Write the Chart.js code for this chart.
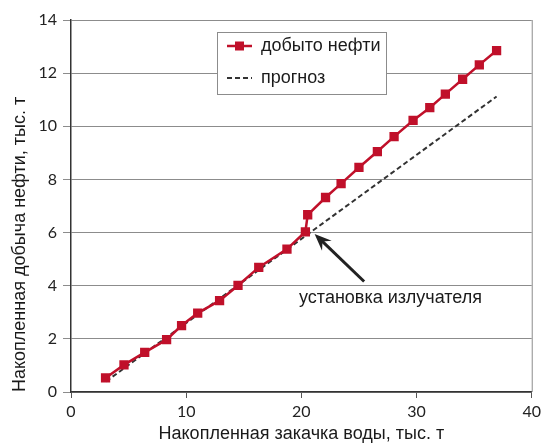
<!doctype html>
<html>
<head>
  <meta charset="UTF-8">
  <title>Накопленная добыча нефти</title>
  <script src="https://cdn.jsdelivr.net/npm/chart.js@4.4.1/dist/chart.umd.min.js"></script>
  <style>
    html, body { margin: 0; padding: 0; background: #fff; }
    #wrap { width: 545px; height: 445px; position: relative; }
  </style>
</head>
<body>
<div id="wrap"><canvas id="canvas"></canvas></div>
<script>
// накопленная закачка воды, тыс. т
var zakachka = [3.0, 4.6, 6.4, 8.3, 9.6, 11.0, 12.9, 14.5, 16.3, 18.75, 20.35, 20.55,
                22.1, 23.45, 25.0, 26.6, 28.05, 29.7, 31.15, 32.5, 34.0, 35.45, 36.95];
// накопленная добыча нефти, тыс. т
var dobycha = [0.53, 1.02, 1.49, 1.97, 2.5, 2.97, 3.44, 4.01, 4.69, 5.38, 6.03, 6.67,
               7.32, 7.84, 8.45, 9.05, 9.61, 10.22, 10.7, 11.21, 11.77, 12.31, 12.85];
// прогноз (прямая)
var prognozX = [3.05, 36.95];
var prognozY = [0.4, 11.12];

var xTicks = [0, 10, 20, 30, 40];
var yTicks = [0, 2, 4, 6, 8, 10, 12, 14];

// подпись и стрелка
var noteText = 'установка излучателя';
var arrowFrom = [25.45, 4.16];
var arrowTo = [21.15, 5.95];
var notePos = [19.8, 3.53];

var red = '#c0102a';
var dark = '#222222';

var pts1 = [];
for (var i = 0; i < zakachka.length; i++) {
  pts1.push({x: zakachka[i], y: dobycha[i]});
}
var pts2 = [];
for (var j = 0; j < prognozX.length; j++) {
  pts2.push({x: prognozX[j], y: prognozY[j]});
}

var extras = {
  id: 'extras',
  afterDraw: function(chart) {
    var ctx = chart.ctx;
    var ca = chart.chartArea;
    var xs = chart.scales.x, ys = chart.scales.y;
    ctx.save();
    // рамка справа
    ctx.strokeStyle = '#8c8c8c';
    ctx.lineWidth = 1;
    ctx.beginPath();
    ctx.moveTo(ca.right + 0.5, ca.top);
    ctx.lineTo(ca.right + 0.5, ca.bottom);
    ctx.stroke();

    // стрелка
    var x1 = xs.getPixelForValue(arrowFrom[0]), y1 = ys.getPixelForValue(arrowFrom[1]);
    var x2 = xs.getPixelForValue(arrowTo[0]), y2 = ys.getPixelForValue(arrowTo[1]);
    var ang = Math.atan2(y2 - y1, x2 - x1);
    var hl = 17, hw = 7;
    var bx = x2 - hl * Math.cos(ang), by = y2 - hl * Math.sin(ang);
    ctx.strokeStyle = dark;
    ctx.fillStyle = dark;
    ctx.lineWidth = 3;
    ctx.beginPath();
    ctx.moveTo(x1, y1);
    ctx.lineTo(x2 - 10 * Math.cos(ang), y2 - 10 * Math.sin(ang));
    ctx.stroke();
    ctx.beginPath();
    ctx.moveTo(x2, y2);
    ctx.lineTo(bx + hw * Math.sin(ang), by - hw * Math.cos(ang));
    ctx.lineTo(x2 - 11 * Math.cos(ang), y2 - 11 * Math.sin(ang));
    ctx.lineTo(bx - hw * Math.sin(ang), by + hw * Math.cos(ang));
    ctx.closePath();
    ctx.fill();

    // подпись
    ctx.font = '18px "Liberation Sans", Arial, sans-serif';
    ctx.fillStyle = '#1a1a1a';
    ctx.textAlign = 'left';
    ctx.textBaseline = 'middle';
    ctx.fillText(noteText, xs.getPixelForValue(notePos[0]), ys.getPixelForValue(notePos[1]));

    // легенда
    var lx = 217, ly = 32, lw = 169, lh = 62;
    ctx.fillStyle = '#fff';
    ctx.fillRect(lx, ly, lw, lh);
    ctx.strokeStyle = '#8c8c8c';
    ctx.lineWidth = 1;
    ctx.strokeRect(lx + 0.5, ly + 0.5, lw, lh);
    var rows = [46, 78];
    chart.data.datasets.forEach(function(ds, k) {
      var yy = rows[k];
      ctx.save();
      ctx.strokeStyle = ds.borderColor;
      ctx.lineWidth = ds.borderWidth;
      ctx.setLineDash(ds.borderDash || []);
      ctx.beginPath();
      ctx.moveTo(lx + 10, yy);
      ctx.lineTo(lx + 35, yy);
      ctx.stroke();
      ctx.restore();
      if (ds.pointRadius > 0) {
        ctx.fillStyle = ds.pointBackgroundColor;
        ctx.fillRect(lx + 22.5 - 4.5, yy - 4.5, 9, 9);
      }
      ctx.fillStyle = '#1a1a1a';
      ctx.font = '18px "Liberation Sans", Arial, sans-serif';
      ctx.textAlign = 'left';
      ctx.textBaseline = 'middle';
      ctx.fillText(ds.label, lx + 44, yy);
    });
    ctx.restore();
  }
};

var ctx = document.getElementById('canvas').getContext('2d');
var myChart = new Chart(ctx, {
  type: 'line',
  data: {
    datasets: [{
      label: 'добыто нефти',
      data: pts1,
      borderColor: red,
      backgroundColor: red,
      pointBackgroundColor: red,
      pointBorderColor: red,
      pointStyle: 'rect',
      pointRadius: 4.8,
      borderWidth: 2.5,
      fill: false,
      order: 1
    }, {
      label: 'прогноз',
      data: pts2,
      borderColor: '#333333',
      borderWidth: 2,
      borderDash: [5, 3],
      pointRadius: 0,
      fill: false,
      order: 2
    }]
  },
  options: {
    responsive: true,
    maintainAspectRatio: false,
    animation: false,
    layout: { padding: { left: 0, right: 12, top: 20, bottom: 0 } },
    plugins: {
      legend: { display: false },
      tooltip: { enabled: false }
    },
    scales: {
      x: {
        type: 'linear',
        min: 0, max: 40,
        afterBuildTicks: function(s) { s.ticks = xTicks.map(function(v) { return {value: v}; }); },
        afterFit: function(s) { s.height = 53; },
        grid: { drawOnChartArea: false, drawTicks: true, tickLength: 6, color: '#555' },
        border: { color: '#333', width: 1.5 },
        ticks: { color: '#222', padding: 4, font: { family: 'Lato', size: 16 } },
        title: {
          display: true,
          text: 'Накопленная закачка воды, тыс. т',
          color: '#1a1a1a',
          padding: { top: 0, bottom: 0 },
          font: { family: '"Liberation Sans", Arial', size: 18 }
        }
      },
      y: {
        min: 0, max: 14,
        afterBuildTicks: function(s) { s.ticks = yTicks.map(function(v) { return {value: v}; }); },
        afterFit: function(s) { s.width = 71; },
        grid: { color: '#8c8c8c', lineWidth: 1, tickLength: 8 },
        border: { color: '#333', width: 1.5 },
        ticks: { color: '#222', padding: 6, font: { family: 'Lato', size: 16 } },
        title: {
          display: true,
          align: 'start',
          text: 'Накопленная добыча нефти, тыс. т',
          color: '#1a1a1a',
          padding: { top: 9, bottom: 0 },
          font: { family: '"Liberation Sans", Arial', size: 18 }
        }
      }
    }
  },
  plugins: [extras]
});
</script>
</body>
</html>
